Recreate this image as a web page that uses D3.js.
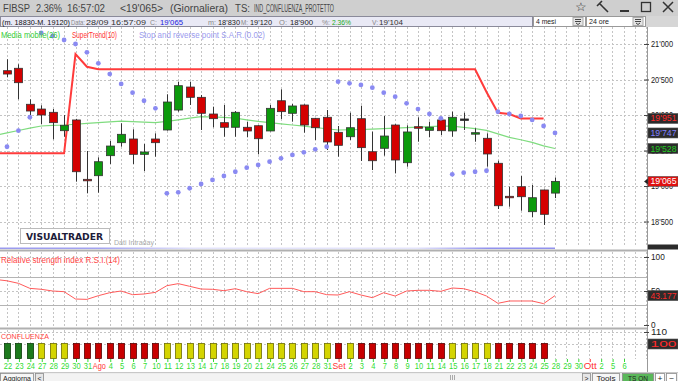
<!DOCTYPE html>
<html>
<head>
<meta charset="utf-8">
<script src="https://cdn.jsdelivr.net/npm/d3@7"></script>
<style>
  body { margin: 0; background: #fff; overflow: hidden; }
  svg { display: block; font-family: "Liberation Sans", Arial, sans-serif; }
</style>
</head>
<body>
<div id="chart"></div>
<script>
(function() {
  var width = 678;
  var height = 381;

  // ---- data ----
  var dates = ["22","23","24","27","28","29","30","31","Ago","4","5","6","7","10",
    "11","12","13","14","17","18","19","20","21","24","25","26","27","28","31",
    "Set","2","3","4","7","8","9","10","11","14","15","16","17","18","21","22",
    "23","24","25","28","29","30","Ott","2","5","6"];
  var months = ["Ago", "Set", "Ott"];

  var open  = [20624,20658,20151,20084,20038,19779,19930,19094,19145,19427,19610,19662,19446,19662,
    19789,20070,20394,20249,20014,19892,19827,19827,19849,19775,20201,20024,20141,19953,19968,
    19756,19694,19948,19483,19531,19859,19328,19835,19784,19930,19775,19944,19732,19672,19320,
    18855,18990,18638,18944,18900];
  var high  = [20785,20714,20221,20137,20084,20000,19945,19493,19404,19634,19883,19799,19592,19742,
    20292,20469,20469,20282,20117,20141,20056,19906,19855,20141,20362,20155,20150,19960,20070,
    19845,20032,20131,19765,19986,19870,19855,19968,19906,19953,20047,20032,19813,19742,19356,
    18990,19141,19014,18950,19120];
  var low   = [20531,20221,20000,19873,19658,19694,19061,18897,18906,19310,19554,19310,19211,19413,
    19780,20047,20141,19789,19827,19694,19694,19686,19446,19770,19944,19906,19751,19648,19507,
    19413,19648,19352,19225,19427,19178,19272,19624,19686,19718,19694,19789,19624,19272,18676,
    18708,18652,18559,18451,18830];
  var close = [20577,20455,20056,20000,19892,19855,19201,19075,19342,19563,19728,19446,19479,19610,
    20183,20413,20249,20024,19948,19827,20038,19775,19666,20094,20047,20127,19859,19821,19620,
    19573,19821,19540,19356,19704,19366,19761,19813,19827,19779,19968,19944,19751,19451,18722,
    18845,18849,18835,18601,19065];

  // lines start one bar before the first visible candle
  var sma26 = [19711,19749,19782,19815,19845,19853,19859,19870,19882,19893,19904,19915,19908,19901,
    19893,19910,19931,19955,19976,19972,19967,19955,19932,19910,19893,19876,19859,19844,19824,
    19806,19789,19792,19796,19800,19807,19815,19822,19829,19835,19842,19842,19827,19807,19784,
    19735,19686,19651,19614,19566,19528];
  var superTrend = [19460,19460,19460,19460,19460,19460,19460,20859,20680,
    20644,20644,20644,20644,20644,20644,20644,20644,20644,20644,20644,20644,20644,20644,20644,
    20644,20644,20644,20644,20644,20644,20644,20644,20644,20644,20644,20644,20644,20644,20644,
    20644,20644,20644,20644,20324,20032,20014,19951,19951,19951];
  var sar = [19553,19779,19968,21155,21113,21056,21000,20883,20728,20577,20437,20314,20201,20094,
    18897,18911,18968,19028,19085,19141,19201,19258,19296,19342,19390,19437,19475,19517,19553,
    20469,20446,20423,20385,20314,20258,20165,20084,20014,19953,19165,19187,19201,19215,20046,
    20014,19986,19930,19845,19747];
  var rsi = [67,65,61.3,53.9,52.5,50,49,38.2,37.7,43.1,47.5,50,44.6,45.6,48,57.8,60.8,56.9,52.9,
    52.5,50.5,53.4,49,46.1,53.9,53.9,53.9,49,49,44.6,44.1,49,44.1,40.2,47.5,42.6,50,51,51,49.5,
    54.4,53.4,49,42.6,31.9,35.3,35.3,35.3,31.4,43.177];
  // 1 = green, 0 = yellow, -1 = red
  var confluenza = [1,1,1,0,0,0,-1,-1,-1,-1,-1,-1,-1,-1,0,0,0,0,0,0,0,0,0,0,0,0,0,0,0,
    -1,0,-1,-1,-1,-1,-1,-1,-1,-1,0,0,0,0,-1,-1,-1,-1,-1];

  var priceTicks = [18500, 19000, 19500, 20000, 20500, 21000];
  var rsiTicks = [0, 50, 100];
  var confTicks = [110];
  var confLevel = 100;

  // ---- scales ----
  var xs = d3.scaleLinear().domain([0, 48]).range([7, 555]);
  var yMain = d3.scaleLinear().domain([18500, 21000]).range([221.5, 44]);
  var yRsi = d3.scaleLinear().domain([0, 100]).range([325, 257]);
  var yConf = d3.scaleLinear().domain([100, 110]).range([344, 332]);
  var axisX = 647;

  var fmtP = function(v) { return d3.format(",")(v).replace(",", "'"); };
  var px = function(i) { return Math.round(xs(i)) + 0.5; };

  var svg = d3.select("#chart").append("svg")
    .attr("width", width).attr("height", height);

  function txt(x, y, s, size, fill, len, extra) {
    var t = svg.append("text").attr("x", x).attr("y", y).text(s)
      .attr("font-size", size).attr("fill", fill);
    if (len) t.attr("textLength", len).attr("lengthAdjust", "spacingAndGlyphs");
    if (extra) t.attr("font-weight", extra);
    return t;
  }

  svg.append("rect").attr("width", width).attr("height", height).attr("fill", "#fff");

  // ---- title bar ----
  svg.append("rect").attr("width", width).attr("height", 16).attr("fill", "#cfcfcf");
  var tcol = "#444";
  txt(3, 11.5, "FIBSP", 10, tcol, 27);
  txt(36, 11.5, "2.36%", 10, tcol, 26);
  txt(67, 11.5, "16:57:02", 10, tcol, 38);
  txt(120, 11.5, "<19'065>", 10, tcol, 43);
  txt(170, 11.5, "(Giornaliera)", 10, tcol, 58);
  txt(235, 11.5, "TS:", 10, tcol, 15);
  txt(254, 11.5, "IND_CONFLUENZA_PROTETTO", 10, tcol, 80);
  txt(575, 11, "\u2606", 12, "#333", 12);
  svg.append("path").attr("d", "M601,5 L608,12 M597,6 L602,1 M599,3 L603,7")
    .attr("stroke", "#333").attr("stroke-width", 1.6).attr("fill", "none");
  svg.append("line").attr("x1", 620).attr("x2", 629).attr("y1", 11).attr("y2", 11)
    .attr("stroke", "#333").attr("stroke-width", 2);
  svg.append("rect").attr("x", 641.5).attr("y", 2.5).attr("width", 9).attr("height", 9)
    .attr("fill", "none").attr("stroke", "#333").attr("stroke-width", 1.3);
  svg.append("path").attr("d", "M663,2 L673,12 M673,2 L663,12")
    .attr("stroke", "#333").attr("stroke-width", 1.5);

  // ---- info bar ----
  svg.append("rect").attr("x", 0).attr("y", 16).attr("width", width).attr("height", 11).attr("fill", "#d6d6d6");
  svg.append("rect").attr("x", 0.5).attr("y", 16.5).attr("width", 532).attr("height", 10)
    .attr("fill", "#e9e9f5").attr("stroke", "#8a8a9a");
  var iy = 24.5, isz = 8;
  txt(2, iy, "(m. 18830-M. 19120)", isz, "#111", 68);
  txt(71, iy, "Data:", isz, "#888", 14);
  txt(86, iy, "28/09 16:57:09", isz, "#333", 60);
  txt(150, iy, "C:", isz, "#888", 7);
  txt(160, iy, "19'065", isz, "#2222dd", 23);
  txt(208, iy, "m:", isz, "#888", 8);
  txt(218, iy, "18'830", isz, "#222", 22);
  txt(241, iy, "M:", isz, "#888", 7);
  txt(250, iy, "19'120", isz, "#222", 22);
  txt(279, iy, "O:", isz, "#888", 8);
  txt(290, iy, "18'900", isz, "#222", 23);
  txt(322, iy, "%:", isz, "#888", 8);
  txt(332, iy, "2.36%", isz, "#22aa22", 19);
  txt(372, iy, "V:", isz, "#888", 6);
  txt(379, iy, "19'104", isz, "#333", 24);
  [[533, 52, "4 mesi"], [586, 59, "24 ore"]].forEach(function(d) {
    svg.append("rect").attr("x", d[0] + 0.5).attr("y", 16.5).attr("width", d[1]).attr("height", 10)
      .attr("fill", "#fff").attr("stroke", "#999");
    txt(d[0] + 3, 24, d[2], 7.5, "#222", 20);
    var bx = d[0] + d[1] - 12;
    svg.append("rect").attr("x", bx).attr("y", 17.5).attr("width", 10).attr("height", 8)
      .attr("fill", "#e4e4e4").attr("stroke", "#aaa");
    svg.append("path").attr("d", "M" + (bx + 2) + ",19.5 h6 M" + (bx + 2) + ",21.5 h6 M" + (bx + 3) + ",23 l2,1.5 l2,-1.5")
      .attr("stroke", "#333").attr("fill", "none").attr("stroke-width", 0.9);
  });

  // ---- grids ----
  var slots = d3.range(0, 57).filter(function(i) { return xs(i) < axisX; });
  var grid = svg.append("g").attr("stroke", "#c4c4c4").attr("stroke-dasharray", "2,2").attr("stroke-width", 1);
  [[27, 247], [252, 327], [330, 359]].forEach(function(p) {
    grid.selectAll(null).data(slots).enter().append("line")
      .attr("x1", px).attr("x2", px).attr("y1", p[0]).attr("y2", p[1]);
  });
  grid.selectAll(null).data(priceTicks).enter().append("line")
    .attr("x1", 0).attr("x2", axisX)
    .attr("y1", function(d) { return Math.round(yMain(d)) + 0.5; })
    .attr("y2", function(d) { return Math.round(yMain(d)) + 0.5; });
  grid.selectAll(null).data([50, 100]).enter().append("line")
    .attr("x1", 0).attr("x2", axisX)
    .attr("y1", function(d) { return Math.round(yRsi(d)) + 0.5; })
    .attr("y2", function(d) { return Math.round(yRsi(d)) + 0.5; });
  grid.selectAll(null).data([100, 110]).enter().append("line")
    .attr("x1", 0).attr("x2", axisX)
    .attr("y1", function(d) { return Math.round(yConf(d)) + 0.5; })
    .attr("y2", function(d) { return Math.round(yConf(d)) + 0.5; });
  svg.selectAll(null).data([30, 70]).enter().append("line")
    .attr("x1", 0).attr("x2", axisX)
    .attr("y1", function(d) { return Math.round(yRsi(d)) + 0.5; })
    .attr("y2", function(d) { return Math.round(yRsi(d)) + 0.5; })
    .attr("stroke", "#b4b4b4");

  // ---- main panel ----
  svg.append("clipPath").attr("id", "mainClip").append("rect")
    .attr("x", 0).attr("y", 27).attr("width", axisX).attr("height", 220);
  var main = svg.append("g").attr("clip-path", "url(#mainClip)");

  txt(1, 38, "Media mobile(26)", 8.5, "#33cc33", 59);
  txt(72, 38, "SuperTrend(10)", 8.5, "#ff3333", 45);
  txt(139, 38, "Stop and reverse point S.A.R.(0.02)", 8.5, "#9a9aee", 126);

  main.append("path").datum(sma26)
    .attr("d", d3.line().x(function(d, i) { return xs(i - 1); }).y(function(d) { return yMain(d); }))
    .attr("fill", "none").attr("stroke", "#7fdc7f").attr("stroke-width", 1.2);

  main.append("path").datum(superTrend)
    .attr("d", d3.line().x(function(d, i) { return xs(i - 1); }).y(function(d) { return yMain(d); }))
    .attr("fill", "none").attr("stroke", "#ff3b3b").attr("stroke-width", 2);

  var candles = main.selectAll(".candle").data(close).enter().append("g").attr("class", "candle");
  candles.append("line")
    .attr("x1", function(d, i) { return px(i); }).attr("x2", function(d, i) { return px(i); })
    .attr("y1", function(d, i) { return yMain(high[i]); })
    .attr("y2", function(d, i) { return yMain(low[i]); })
    .attr("stroke", "#333");
  candles.append("rect")
    .attr("x", function(d, i) { return Math.round(xs(i)) - 3.5; })
    .attr("width", 8)
    .attr("y", function(d, i) { return yMain(Math.max(open[i], d)); })
    .attr("height", function(d, i) { return Math.max(1.5, Math.abs(yMain(open[i]) - yMain(d))); })
    .attr("fill", function(d, i) {
      if (d === open[i]) return "#222";
      return d > open[i] ? "#0c9a0c" : "#d40000";
    })
    .attr("stroke", "#333").attr("stroke-width", 0.8);

  main.selectAll(".sar").data(sar).enter().append("circle").attr("class", "sar")
    .attr("cx", function(d, i) { return xs(i); })
    .attr("cy", function(d) { return yMain(d); })
    .attr("r", 2.4).attr("fill", "#8a8af2");

  // logo
  svg.append("rect").attr("x", 20.5).attr("y", 228.5).attr("width", 89).attr("height", 15)
    .attr("fill", "#fff").attr("stroke", "#bbb");
  txt(26, 240, "VISUALTRADER", 9.5, "#1d1d3a", 77, "bold").attr("font-family", "DejaVu Sans");
  txt(114, 245, "Dati Intraday", 7, "#aaa", 40);

  // thin blue volume strip under the price panel
  var grad = svg.append("defs").append("linearGradient").attr("id", "volGrad");
  [[0, 0.55], [0.18, 0.5], [0.35, 0.15], [0.75, 0.15], [0.88, 0.6], [1, 0.6]].forEach(function(s) {
    grad.append("stop").attr("offset", s[0]).attr("stop-color", "#4848e0").attr("stop-opacity", s[1]);
  });
  svg.append("rect").attr("x", 0).attr("y", 247.5).attr("width", xs(48)).attr("height", 1.5)
    .attr("fill", "url(#volGrad)");

  // panel separators
  svg.append("rect").attr("x", 0).attr("y", 249.5).attr("width", width).attr("height", 2).attr("fill", "#b0b0b0");
  svg.append("rect").attr("x", 0).attr("y", 327.5).attr("width", width).attr("height", 2).attr("fill", "#b0b0b0");

  // ---- RSI panel ----
  txt(1, 263, "Relative strength index R.S.I.(14)", 8.5, "#ff4444", 119);
  svg.append("path").datum(rsi)
    .attr("d", d3.line().x(function(d, i) { return xs(i - 1); }).y(function(d) { return yRsi(d); }))
    .attr("fill", "none").attr("stroke", "#ff5a5a").attr("stroke-width", 1);

  // ---- CONFLUENZA panel ----
  txt(1, 339, "CONFLUENZA", 8, "#ff4444", 48);
  var confFill = { "1": "#1d7a1d", "0": "#d4d400", "-1": "#c80000" };
  var confStroke = { "1": "#0b3d0b", "0": "#6e6e00", "-1": "#5a0000" };
  svg.selectAll(".conf").data(confluenza).enter().append("rect").attr("class", "conf")
    .attr("x", function(d, i) { return Math.round(xs(i)) - 2.5; })
    .attr("y", yConf(confLevel) - 0.5)
    .attr("width", 6).attr("height", 359 - yConf(confLevel))
    .attr("fill", function(d) { return confFill[d]; })
    .attr("stroke", function(d) { return confStroke[d]; }).attr("stroke-width", 0.8);

  // ---- date axis ----
  var xAxis = d3.axisBottom(xs).tickValues(d3.range(dates.length))
    .tickFormat(function(i) { return dates[i]; }).tickSize(3).tickPadding(1);
  var gx = svg.append("g").attr("transform", "translate(0.5,359)").call(xAxis);
  gx.select(".domain").remove();
  gx.selectAll(".tick line").attr("stroke", function(i) { return months.indexOf(dates[i]) >= 0 ? "#ff3333" : "#33dd33"; });
  gx.selectAll(".tick text")
    .attr("font-size", 8.5).attr("font-family", "Liberation Sans, Arial, sans-serif")
    .attr("fill", function(i) { return months.indexOf(dates[i]) >= 0 ? "#ff3333" : "#33dd33"; })
    .attr("textLength", function(i) { var s = dates[i]; return months.indexOf(s) >= 0 ? 13 : s.length * 4.2; })
    .attr("lengthAdjust", "spacingAndGlyphs");

  // ---- right axes ----
  svg.append("rect").attr("x", axisX + 1).attr("y", 27).attr("width", width - axisX - 1).attr("height", 345).attr("fill", "#fff");
  svg.append("line").attr("x1", axisX + 0.5).attr("x2", axisX + 0.5).attr("y1", 27).attr("y2", 372).attr("stroke", "#999");

  function rightAxis(scale, ticks, fmt, len) {
    var g = svg.append("g").attr("transform", "translate(" + (axisX - 3) + ",0)")
      .call(d3.axisRight(scale).tickValues(ticks).tickFormat(fmt).tickSize(5).tickPadding(2));
    g.select(".domain").remove();
    g.selectAll(".tick line").attr("stroke", "#444");
    g.selectAll(".tick text").attr("font-size", 8.5).attr("fill", "#222")
      .attr("font-family", "Liberation Sans, Arial, sans-serif")
      .attr("textLength", len).attr("lengthAdjust", "spacingAndGlyphs");
    return g;
  }
  rightAxis(yMain, priceTicks, fmtP, 22);
  rightAxis(yRsi, rsiTicks, function(d) { return d; }, function(d) { return String(d).length * 4.6; });
  rightAxis(yConf, confTicks, function(d) { return d; }, 16);

  function tag(y, label, bg, fg) {
    svg.append("rect").attr("x", axisX + 1).attr("y", y - 5).attr("width", 30).attr("height", 10)
      .attr("fill", bg).attr("stroke", "#555").attr("stroke-width", 0.6);
    txt(axisX + 3.5, y + 3, label, 8.5, fg, 26);
  }
  tag(yMain(superTrend[superTrend.length - 1]), fmtP(superTrend[superTrend.length - 1]), "#2b2b2b", "#ff2a2a");
  tag(yMain(sar[sar.length - 1]), fmtP(sar[sar.length - 1]), "#2b2b2b", "#8080ff");
  tag(yMain(sma26[sma26.length - 1]), fmtP(sma26[sma26.length - 1]), "#2b2b2b", "#22cc22");
  var lastY = yMain(close[close.length - 1]);
  svg.append("path").attr("d", "M" + (axisX - 3) + "," + lastY + " l4,-3 v6 z").attr("fill", "#222");
  tag(lastY, fmtP(close[close.length - 1]), "#e01010", "#fff");
  tag(yRsi(rsi[rsi.length - 1]), String(rsi[rsi.length - 1]), "#2b2b2b", "#ff2a2a");
  tag(yConf(confLevel), String(confLevel), "#2b2b2b", "#ff2a2a");
  svg.append("rect").attr("x", axisX + 1).attr("y", 244.5).attr("width", 30).attr("height", 5).attr("fill", "#2b2b2b");

  // ---- bottom toolbar ----
  svg.append("rect").attr("x", 0).attr("y", 372).attr("width", width).attr("height", 9).attr("fill", "#ececec");
  svg.append("line").attr("x1", 0).attr("x2", width).attr("y1", 372.5).attr("y2", 372.5).attr("stroke", "#c8c8c8");
  function button(x, w, label, fill, len) {
    svg.append("rect").attr("x", x + 0.5).attr("y", 373.5).attr("width", w).attr("height", 8)
      .attr("fill", fill).attr("stroke", "#8a8a8a").attr("stroke-width", 0.8);
    if (label) txt(x + (w - len) / 2 + 0.5, 380.5, label, 7.5, "#222", len);
  }
  button(0, 33, "Aggiorna", "#f6f6f6", 28);
  button(35, 8, "<", "#e6e6e6", 4);
  svg.append("rect").attr("x", 44).attr("y", 374).attr("width", 538).attr("height", 7).attr("fill", "#f3f3f3");
  svg.append("path").attr("d", "M450.5,375 v5 M452.5,375 v5 M454.5,375 v5").attr("stroke", "#aaa");
  button(582, 8, ">", "#e6e6e6", 4);
  button(592, 27, "Tools", "#f6f6f6", 19);
  button(622, 31, "TS ON", "#5ab85a", 20);
  button(655, 9, "+", "#fff", 5);
  button(666, 10, "\u2212", "#fff", 5);
})();
</script>
</body>
</html>
